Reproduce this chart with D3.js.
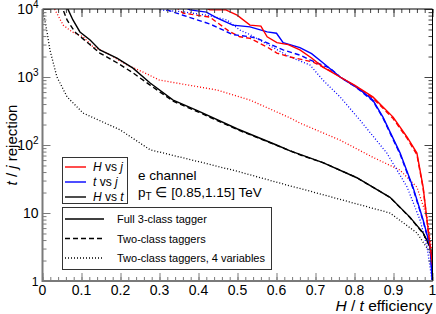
<!DOCTYPE html>
<html>
<head>
<meta charset="utf-8">
<script src="https://cdn.jsdelivr.net/npm/d3@7/dist/d3.min.js"></script>
<style>
body { margin: 0; background: #fff; }
text { font-family: "Liberation Sans", Arial, sans-serif; fill: #000; }
</style>
</head>
<body>
<svg id="chart" width="436" height="314"></svg>
<script>
// H vs t
const htFullEff = [0.058, 0.066, 0.078, 0.096, 0.122, 0.147, 0.191, 0.232, 0.276, 0.335, 0.4, 0.5, 0.6, 0.635, 0.662, 0.719, 0.806, 0.891, 0.942, 0.976, 0.994, 1.0];
const htFullRej = [12000, 9700, 6900, 4600, 3500, 2500, 1900, 1350, 815, 458, 316, 172, 100, 82, 72, 55, 33, 17, 8.7, 5.1, 3.2, 1.8];
const htTwoEff = [0.046, 0.053, 0.063, 0.083, 0.114, 0.147, 0.191, 0.232, 0.276, 0.335, 0.4, 0.5, 0.6, 0.662, 0.719, 0.806, 0.891, 0.942, 0.976, 0.994, 1.0];
const htTwoRej = [12000, 9700, 6900, 4600, 3250, 2250, 1620, 1150, 760, 440, 305, 168, 99, 71, 55, 33, 17, 8.6, 5.0, 3.1, 1.7];
const htFourEff = [0.0, 0.001, 0.012, 0.019, 0.037, 0.063, 0.104, 0.199, 0.276, 0.4, 0.5, 0.635, 0.66, 0.891, 0.96, 0.994, 1.0];
const htFourRej = [12000, 9700, 4450, 2500, 1000, 510, 295, 167, 85, 57, 41, 25, 23, 10, 5.1, 2.6, 1.3];

// H vs j
const hjFullEff = [0.41, 0.429, 0.47, 0.499, 0.532, 0.56, 0.576, 0.601, 0.63, 0.66, 0.69, 0.719, 0.763, 0.8, 0.847, 0.899, 0.935, 0.96, 0.976, 0.986, 0.994, 1.0];
const hjFullRej = [11000, 9700, 9700, 8100, 5800, 5600, 3900, 3200, 3000, 2500, 1900, 1400, 1000, 760, 510, 257, 130, 76, 24, 7.9, 3.2, 1.7];
const hjTwoEff = [0.34, 0.36, 0.429, 0.481, 0.506, 0.532, 0.576, 0.601, 0.635, 0.694, 0.745, 0.763, 0.847, 0.899, 0.935, 0.96, 0.976, 0.986, 0.994, 1.0];
const hjTwoRej = [11000, 8700, 7600, 4600, 3900, 3700, 2760, 2250, 1970, 1660, 1180, 1000, 490, 245, 125, 72, 23, 7.5, 3.0, 1.6];
const hjFourEff = [0.025, 0.032, 0.053, 0.076, 0.104, 0.129, 0.165, 0.217, 0.258, 0.3, 0.447, 0.532, 0.635, 0.66, 0.763, 0.847, 0.916, 0.96, 0.986, 0.999];
const hjFourRej = [12000, 9700, 5800, 4600, 3900, 2800, 2250, 1500, 1180, 900, 645, 458, 250, 210, 118, 66, 43, 24, 8.7, 2.6];

// t vs j
const tjFullEff = [0.36, 0.378, 0.42, 0.447, 0.488, 0.532, 0.576, 0.6, 0.617, 0.66, 0.69, 0.719, 0.763, 0.806, 0.847, 0.873, 0.917, 0.95, 0.976, 0.994, 0.999];
const tjFullRej = [11000, 9700, 9000, 7400, 5800, 5450, 4600, 4400, 3200, 2700, 2200, 1620, 1000, 710, 458, 257, 76, 24, 7.9, 3.2, 1.03];
const tjTwoEff = [0.30, 0.319, 0.36, 0.43, 0.488, 0.532, 0.55, 0.617, 0.66, 0.686, 0.737, 0.763, 0.806, 0.847, 0.873, 0.917, 0.95, 0.976, 0.994, 1.0];
const tjTwoRej = [11000, 9700, 8100, 6000, 4200, 3900, 3700, 2500, 2100, 1780, 1350, 1000, 690, 445, 250, 73, 23, 7.6, 3.1, 1.0];
const tjFourEff = [0.29, 0.301, 0.36, 0.422, 0.473, 0.506, 0.532, 0.635, 0.686, 0.719, 0.763, 0.814, 0.883, 0.935, 0.968, 0.986, 0.999];
const tjFourRej = [11000, 9700, 9100, 8100, 6900, 4900, 4200, 1970, 1500, 900, 510, 232, 76, 24, 7.9, 3.2, 1.0];

const xTicks = [0, 0.1, 0.2, 0.3, 0.4, 0.5, 0.6, 0.7, 0.8, 0.9, 1];
const xTickLabels = ['0', '0.1', '0.2', '0.3', '0.4', '0.5', '0.6', '0.7', '0.8', '0.9', '1'];
const yTicks = [1, 10, 100, 1000, 10000];
const yTickLabels = [['1', ''], ['10', ''], ['10', '2'], ['10', '3'], ['10', '4']];

const classLabels = [['H', 'j'], ['t', 'j'], ['H', 't']];
const classColors = ['#ff0000', '#0000ff', '#000000'];
const taggerLabels = ['Full 3-class tagger', 'Two-class taggers', 'Two-class taggers, 4 variables'];
const taggerDashes = [null, '5,3', '1,2'];

const curves = [
    { eff: htFourEff, rej: htFourRej, cls: 2, tagger: 2 },
    { eff: hjFourEff, rej: hjFourRej, cls: 0, tagger: 2 },
    { eff: tjFourEff, rej: tjFourRej, cls: 1, tagger: 2 },
    { eff: htTwoEff, rej: htTwoRej, cls: 2, tagger: 1 },
    { eff: hjTwoEff, rej: hjTwoRej, cls: 0, tagger: 1 },
    { eff: tjTwoEff, rej: tjTwoRej, cls: 1, tagger: 1 },
    { eff: htFullEff, rej: htFullRej, cls: 2, tagger: 0 },
    { eff: tjFullEff, rej: tjFullRej, cls: 1, tagger: 0 },
    { eff: hjFullEff, rej: hjFullRej, cls: 0, tagger: 0 }
];

const margin = { left: 42.5, right: 3.5, top: 9, bottom: 33 };
const width = 436, height = 314;

const svg = d3.select('#chart');
const x = d3.scaleLinear().domain([0, 1]).range([margin.left, width - margin.right]);
const y = d3.scaleLog().domain([1, 1e4]).range([height - margin.bottom, margin.top]);

svg.append('clipPath').attr('id', 'plot-clip')
    .append('rect')
    .attr('x', x(0)).attr('y', y(1e4))
    .attr('width', x(1) - x(0)).attr('height', y(1) - y(1e4));

// curves
const line = d3.line()
    .x(d => x(d[0]))
    .y(d => y(d[1]));

svg.append('g').attr('clip-path', 'url(#plot-clip)')
    .selectAll('path')
    .data(curves)
    .enter().append('path')
    .attr('d', c => line(c.eff.map((e, i) => [e, c.rej[i]])))
    .attr('fill', 'none')
    .attr('stroke', c => classColors[c.cls])
    .attr('stroke-width', c => c.tagger === 2 ? 1.3 : 1.4)
    .attr('stroke-dasharray', c => taggerDashes[c.tagger]);

// axes
const minorX = d3.range(0, 1.0001, 0.02);
const minorY = [];
for (let p = 0; p < 4; p++) {
    for (let m = 2; m <= 9; m++) minorY.push(m * Math.pow(10, p));
}

function drawTicks(g, axis, values, size, color) {
    g.call(axis.tickValues(values).tickSize(size).tickFormat(''));
    g.select('.domain').remove();
    g.selectAll('.tick line').attr('stroke', color);
}

const axisGray = '#7a7a7a';

const bottomAxis = svg.append('g').attr('transform', `translate(0,${y(1)})`);
drawTicks(bottomAxis.append('g'), d3.axisBottom(x), minorX, -4, axisGray);
drawTicks(bottomAxis.append('g'), d3.axisBottom(x), xTicks, -8, axisGray);

const topAxis = svg.append('g').attr('transform', `translate(0,${y(1e4)})`);
drawTicks(topAxis.append('g'), d3.axisTop(x), minorX, -4, '#444');
drawTicks(topAxis.append('g'), d3.axisTop(x), xTicks, -8, '#444');

const leftAxis = svg.append('g').attr('transform', `translate(${x(0)},0)`);
drawTicks(leftAxis.append('g'), d3.axisLeft(y), minorY, -4, axisGray);
drawTicks(leftAxis.append('g'), d3.axisLeft(y), yTicks, -8, axisGray);

const rightAxis = svg.append('g').attr('transform', `translate(${x(1)},0)`);
drawTicks(rightAxis.append('g'), d3.axisRight(y), minorY, -4, '#444');
drawTicks(rightAxis.append('g'), d3.axisRight(y), yTicks, -8, '#444');

// frame
svg.append('line').attr('x1', x(0)).attr('x2', x(1)).attr('y1', y(1e4)).attr('y2', y(1e4))
    .attr('stroke', '#000').attr('stroke-width', 1);
svg.append('line').attr('x1', x(1)).attr('x2', x(1)).attr('y1', y(1e4)).attr('y2', y(1))
    .attr('stroke', '#000').attr('stroke-width', 1);
svg.append('line').attr('x1', x(0)).attr('x2', x(1)).attr('y1', y(1)).attr('y2', y(1))
    .attr('stroke', axisGray).attr('stroke-width', 2);
svg.append('line').attr('x1', x(0)).attr('x2', x(0)).attr('y1', y(1e4)).attr('y2', y(1) + 1)
    .attr('stroke', axisGray).attr('stroke-width', 2);

// tick labels
svg.append('g').selectAll('text')
    .data(xTicks)
    .enter().append('text')
    .attr('x', d => x(d))
    .attr('y', y(1) + 14)
    .attr('text-anchor', 'middle')
    .attr('font-size', 14)
    .text((d, i) => xTickLabels[i]);

const yLabels = svg.append('g').selectAll('text')
    .data(yTicks)
    .enter().append('text')
    .attr('x', x(0) - 4)
    .attr('y', d => y(d) + 5)
    .attr('text-anchor', 'end')
    .attr('font-size', d => d === 1 ? 12 : 14);
yLabels.append('tspan').text((d, i) => yTickLabels[i][0]);
yLabels.append('tspan')
    .attr('font-size', 10)
    .attr('dy', -6)
    .text((d, i) => yTickLabels[i][1]);

// axis titles
const xTitle = svg.append('text')
    .attr('x', x(1))
    .attr('y', 311)
    .attr('text-anchor', 'end')
    .attr('font-size', 15.5);
xTitle.append('tspan').attr('font-style', 'italic').text('H');
xTitle.append('tspan').text(' / ');
xTitle.append('tspan').attr('font-style', 'italic').text('t');
xTitle.append('tspan').text(' efficiency');

const yTitle = svg.append('text')
    .attr('transform', `translate(17,${(y(1) + y(1e4)) / 2}) rotate(-90)`)
    .attr('text-anchor', 'middle')
    .attr('font-size', 15);
yTitle.append('tspan').attr('font-style', 'italic').text('t');
yTitle.append('tspan').text(' / ');
yTitle.append('tspan').attr('font-style', 'italic').text('j');
yTitle.append('tspan').text(' rejection');

// class legend
const classBox = svg.append('g');
classBox.append('rect')
    .attr('x', 62.5).attr('y', 157.5).attr('width', 65).attr('height', 46)
    .attr('fill', '#fff').attr('stroke', '#333').attr('stroke-width', 1);
classLabels.forEach((lab, i) => {
    const ry = 167 + i * 15;
    classBox.append('line')
        .attr('x1', 65).attr('x2', 86).attr('y1', ry).attr('y2', ry)
        .attr('stroke', classColors[i]).attr('stroke-width', 1.4);
    const t = classBox.append('text')
        .attr('x', 93).attr('y', ry + 4).attr('font-size', 12);
    t.append('tspan').attr('font-style', 'italic').text(lab[0]);
    t.append('tspan').text(' vs ');
    t.append('tspan').attr('font-style', 'italic').text(lab[1]);
});

svg.append('text').attr('x', 138).attr('y', 180).attr('font-size', 13.5).text('e channel');
const ptText = svg.append('text').attr('x', 138).attr('y', 197).attr('font-size', 13.5);
ptText.append('tspan').text('p');
ptText.append('tspan').attr('font-size', 10).attr('dy', 3).text('T');
ptText.append('tspan').attr('dy', -3).text(' \u2208 [0.85,1.15] TeV');

// tagger legend
const taggerBox = svg.append('g');
taggerBox.append('rect')
    .attr('x', 62.5).attr('y', 207.5).attr('width', 209).attr('height', 62)
    .attr('fill', '#fff').attr('stroke', '#333').attr('stroke-width', 1);
taggerLabels.forEach((lab, i) => {
    const ry = 219 + i * 19.5;
    taggerBox.append('line')
        .attr('x1', 65).attr('x2', 104).attr('y1', ry).attr('y2', ry)
        .attr('stroke', '#000').attr('stroke-width', 1.3)
        .attr('stroke-dasharray', taggerDashes[i]);
    taggerBox.append('text')
        .attr('x', 117).attr('y', ry + 4).attr('font-size', 11).text(lab);
});
</script>
</body>
</html>
